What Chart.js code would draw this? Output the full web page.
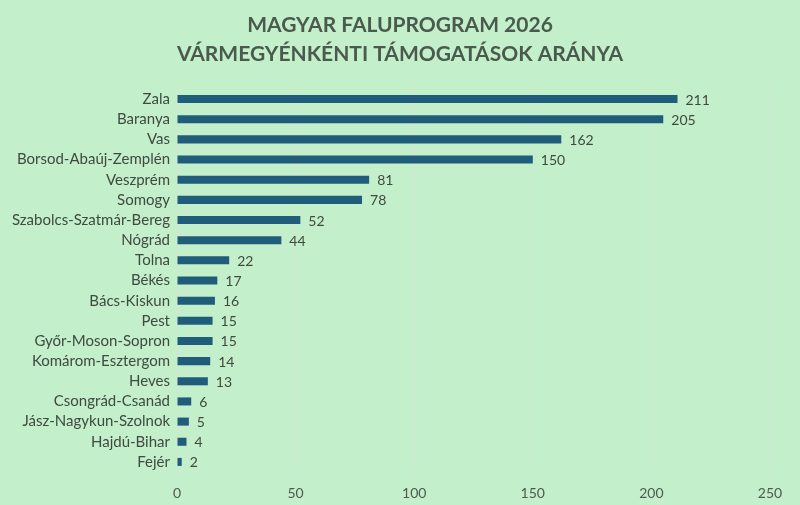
<!DOCTYPE html>
<html>
<head>
<meta charset="utf-8">
<script src="https://cdn.jsdelivr.net/npm/chart.js@4"></script>
<style>
  html, body { margin: 0; padding: 0; background: #c3efca; }
  #wrap { width: 800px; height: 505px; }
</style>
</head>
<body>
<div id="wrap"><canvas id="chartCanvas"></canvas></div>
<script>
// vármegyék, csökkenő sorrendben
const counties = ['Zala', 'Baranya', 'Vas', 'Borsod-Abaúj-Zemplén', 'Veszprém', 'Somogy',
    'Szabolcs-Szatmár-Bereg', 'Nógrád', 'Tolna', 'Békés', 'Bács-Kiskun', 'Pest',
    'Győr-Moson-Sopron', 'Komárom-Esztergom', 'Heves', 'Csongrád-Csanád',
    'Jász-Nagykun-Szolnok', 'Hajdú-Bihar', 'Fejér']
const grants = [211, 205, 162, 150, 81, 78, 52, 44, 22, 17, 16, 15, 15, 14, 13, 6, 5, 4, 2]
const titleLines = ['MAGYAR FALUPROGRAM 2026', 'VÁRMEGYÉNKÉNTI TÁMOGATÁSOK ARÁNYA']
const xMax = 250
const xStep = 50

const font = 'Lato, "Open Sans", sans-serif'

// cím a vászon közepére
const centeredTitle = {
    id: 'centeredTitle',
    afterDraw(chart) {
        const ctx = chart.ctx
        ctx.save()
        ctx.font = 'bold 21px ' + font
        ctx.fillStyle = '#4a5a4c'
        ctx.textAlign = 'center'
        ctx.textBaseline = 'middle'
        titleLines.forEach((line, i) => {
            ctx.fillText(line, chart.width / 2, 25 + i * 29)
        })
        ctx.restore()
    }
}

// értékcímkék a sávok végén
const valueLabels = {
    id: 'valueLabels',
    afterDatasetsDraw(chart) {
        const ctx = chart.ctx
        ctx.save()
        ctx.font = '14px ' + font
        ctx.fillStyle = '#404a40'
        ctx.textBaseline = 'middle'
        ctx.textAlign = 'left'
        chart.getDatasetMeta(0).data.forEach((bar, i) => {
            ctx.fillText(grants[i], bar.x + 8, bar.y + 1)
        })
        ctx.restore()
    }
}

const config = {
    type: 'bar',
    data: {
        labels: counties,
        datasets: [
            {
                data: grants,
                backgroundColor: '#1f5d7b',
                barPercentage: 0.7,
                categoryPercentage: 0.57
            }
        ]
    },
    options: {
        indexAxis: 'y',
        responsive: false,
        animation: false,
        layout: {
            padding: { left: 0, right: 30, top: 89, bottom: 1 }
        },
        plugins: {
            legend: { display: false },
            tooltip: { enabled: false },
            title: { display: false }
        },
        scales: {
            x: {
                min: 0,
                max: xMax,
                ticks: {
                    stepSize: xStep,
                    color: '#505a50',
                    font: { family: font, size: 14 },
                    padding: 13
                },
                grid: { color: '#d3e6d4', lineWidth: 1, drawTicks: false },
                border: { display: false },
                afterFit(scale) { scale.height = 32 }
            },
            y: {
                ticks: {
                    color: '#404a40',
                    font: { family: font, size: 15 },
                    padding: 7,
                    autoSkip: false
                },
                grid: { display: false, drawTicks: false },
                border: { display: true, color: '#d3e6d4' },
                afterFit(scale) { scale.width = 177 }
            }
        }
    },
    plugins: [centeredTitle, valueLabels]
}

const canvas = document.getElementById('chartCanvas')
canvas.width = 800
canvas.height = 505
const myChart = new Chart(canvas, config)
</script>
</body>
</html>
